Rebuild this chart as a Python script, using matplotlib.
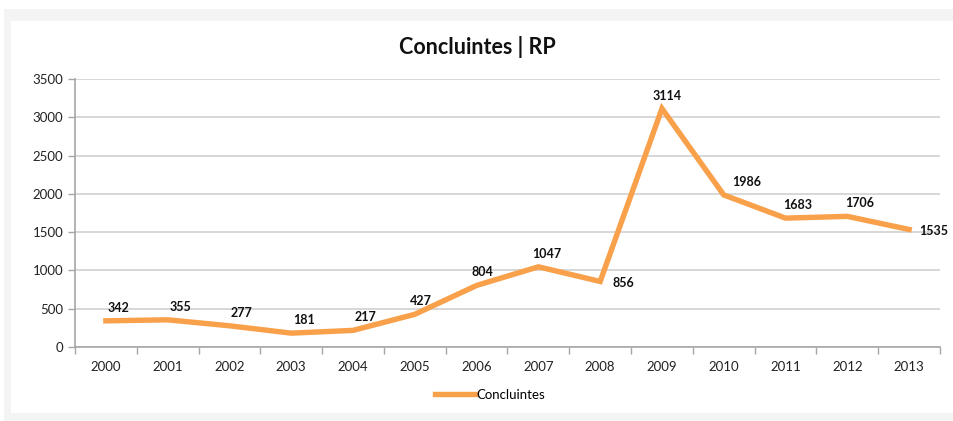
import matplotlib.pyplot as plt
from matplotlib.patches import Rectangle

plt.rcParams['font.family'] = ['Lato', 'DejaVu Sans']

# dados
anos = ['2000', '2001', '2002', '2003', '2004', '2005', '2006',
        '2007', '2008', '2009', '2010', '2011', '2012', '2013']
concluintes = [342, 355, 277, 181, 217, 427, 804, 1047, 856, 3114, 1986, 1683, 1706, 1535]

W, H = 954, 421
fig = plt.figure(figsize=(W / 100, H / 100), dpi=100)
fig.patch.set_facecolor('white')

# moldura cinza + painel branco
fig.patches.append(Rectangle((4 / W, 0), 1, (H - 9) / H, transform=fig.transFigure,
                             facecolor='#f4f4f4', edgecolor='none', zorder=-2))
fig.patches.append(Rectangle((11 / W, 8 / H), 1, (H - 29) / H, transform=fig.transFigure,
                             facecolor='white', edgecolor='none', zorder=-1))

ax = fig.add_axes([75 / W, (H - 347) / H, 865 / W, 268 / H])
ax.set_facecolor('none')

x = list(range(len(anos)))
cor = '#F9A04B'
ax.plot(x, concluintes, color=cor, lw=3.9, solid_joinstyle='miter', label='Concluintes', zorder=3)

ax.set_xlim(-0.5, len(anos) - 0.5)
ax.set_ylim(0, 3500)
ax.set_yticks(range(0, 3501, 500))
ax.set_xticks(x)
ax.set_xticklabels(anos)
ax.set_xticks([i + 0.5 for i in range(-1, len(anos))], minor=True)
ax.tick_params(axis='x', which='major', length=0, pad=10, labelsize=9.5)
ax.tick_params(axis='x', which='minor', length=5, colors='#a6a6a6', width=1)
ax.tick_params(axis='y', length=5, colors='#a6a6a6', width=1, labelsize=9.5, labelcolor='#222222')
for lab in ax.get_xticklabels():
    lab.set_color('#222222')

ax.grid(axis='y', color='#d4d4d4', lw=1.3, zorder=0)
for s in ['top', 'right']:
    ax.spines[s].set_visible(False)
for s in ['left', 'bottom']:
    ax.spines[s].set_color('#a6a6a6')
    ax.spines[s].set_linewidth(1.2)

# rótulos de dados (deslocamento em pontos)
offsets = {5: (4, 5, 'center', 'bottom'), 6: (4, 5, 'center', 'bottom'),
           9: (4, 5, 'center', 'bottom'), 7: (6, 5, 'center', 'bottom'),
           8: (9, -1, 'left', 'center'), 13: (7, -1, 'left', 'center'),
           10: (6, 5, 'left', 'bottom')}
for i, v in enumerate(concluintes):
    dx, dy, ha, va = offsets.get(i, (9, 5, 'center', 'bottom'))
    ax.annotate(str(v), (i, v), xytext=(dx, dy), textcoords='offset points',
                ha=ha, va=va, fontsize=9, fontweight='bold', color='#111111',
                annotation_clip=False, zorder=4)

fig.text(0.5, (H - 47) / H, 'Concluintes | RP', ha='center', va='center',
         fontsize=15.5, fontweight='bold', color='#111111')

fig.legend(loc='center', bbox_to_anchor=(490 / W, (H - 395) / H), frameon=False,
           fontsize=9.5, handlelength=3, handletextpad=0.1)

fig.savefig('out.png', dpi=100)
